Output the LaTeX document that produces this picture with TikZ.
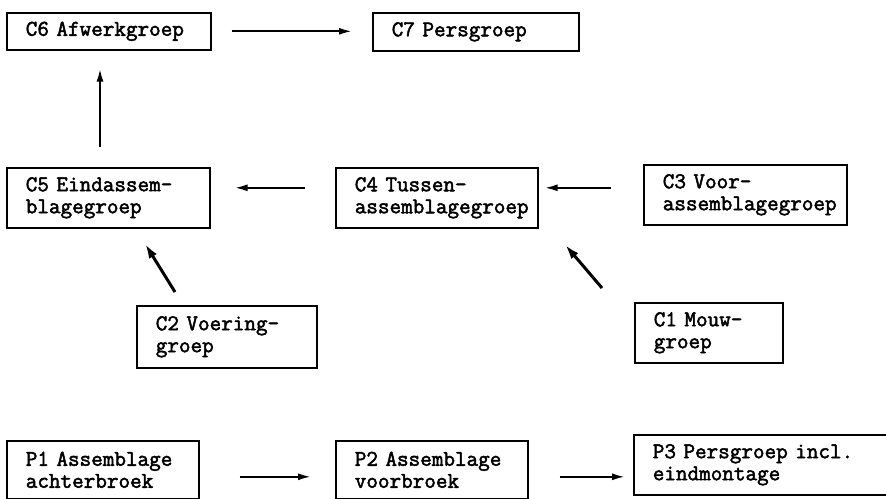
\documentclass[tikz,border=0pt]{standalone}
\usepackage{fontspec}
\newfontfamily\grpfont{Latin Modern Mono}[FakeBold=2.2]
\usetikzlibrary{arrows.meta,calc}

\tikzset{
  grp/.style={draw, line width=1.6pt, inner xsep=19pt, inner ysep=0pt,
    align=left, anchor=north west,
    font=\grpfont\fontsize{22.5}{22}\selectfont},
  flow/.style={line width=2pt, -{Latex[length=13pt,width=7pt]}},
  slant/.style={line width=3pt, -{Latex[length=15pt,width=9pt]}}
}

\begin{document}
\begin{tikzpicture}[x=1pt, y=-1pt]
\useasboundingbox (0,0) rectangle (886,498);

% top row
\node[grp, text width=166pt, minimum height=37pt] (c6) at (6,12) {C6 Afwerkgroep};
\node[grp, text width=168pt, minimum height=38pt] (c7) at (372,12) {C7 Persgroep};

% middle row
\node[grp, text width=165pt, minimum height=60pt] (c5) at (6,167) {C5 Eindassem-\\blagegroep};
\node[grp, text width=164pt, minimum height=60pt] (c4) at (335,167) {C4 Tussen-\\assemblagegroep};
\node[grp, text width=165pt, minimum height=60pt] (c3) at (643,164) {C3 Voor-\\assemblagegroep};

% feeding groups
\node[grp, text width=142pt, minimum height=62pt] (c2) at (136,305) {C2 Voering-\\groep};
\node[grp, text width=110pt, minimum height=60pt] (c1) at (634,302) {C1 Mouw-\\groep};

% bottom row
\node[grp, text width=154pt, minimum height=58pt] (p1) at (6,440) {P1 Assemblage\\achterbroek};
\node[grp, text width=154pt, minimum height=58pt] (p2) at (335,440) {P2 Assemblage\\voorbroek};
\node[grp, text width=215pt, minimum height=60pt] (p3) at (633,434) {P3 Persgroep incl.\\eindmontage};

% connectors
\draw[flow, shorten <=20pt, shorten >=20pt] (c6.east) -- (c6.east -| c7.west);
\draw[flow] ([xshift=94pt,yshift=20pt]c5.north west) -- ([xshift=94pt,yshift=-18pt]c6.south west);
\draw[flow, shorten <=30pt, shorten >=24pt] ([yshift=10pt]c4.west) -- ([yshift=10pt]c4.west -| c5.east);
\draw[flow, shorten <=32pt, shorten >=6pt] ([yshift=10pt]c4.east -| c3.west) -- ([yshift=10pt]c4.east);
\draw[slant] ([xshift=39pt,yshift=13pt]c2.north west) -- ([xshift=139pt,yshift=-15pt]c5.south west);
\draw[slant] ([xshift=-32pt,yshift=14pt]c1.north west) -- ([xshift=230pt,yshift=-16pt]c4.south west);
\draw[flow, shorten <=40pt, shorten >=24pt] ([yshift=-7pt]p1.east) -- ([yshift=-7pt]p1.east -| p2.west);
\draw[flow, shorten <=31pt, shorten >=8pt] ([yshift=-7pt]p2.east) -- ([yshift=-7pt]p2.east -| p3.west);
\end{tikzpicture}
\end{document}
